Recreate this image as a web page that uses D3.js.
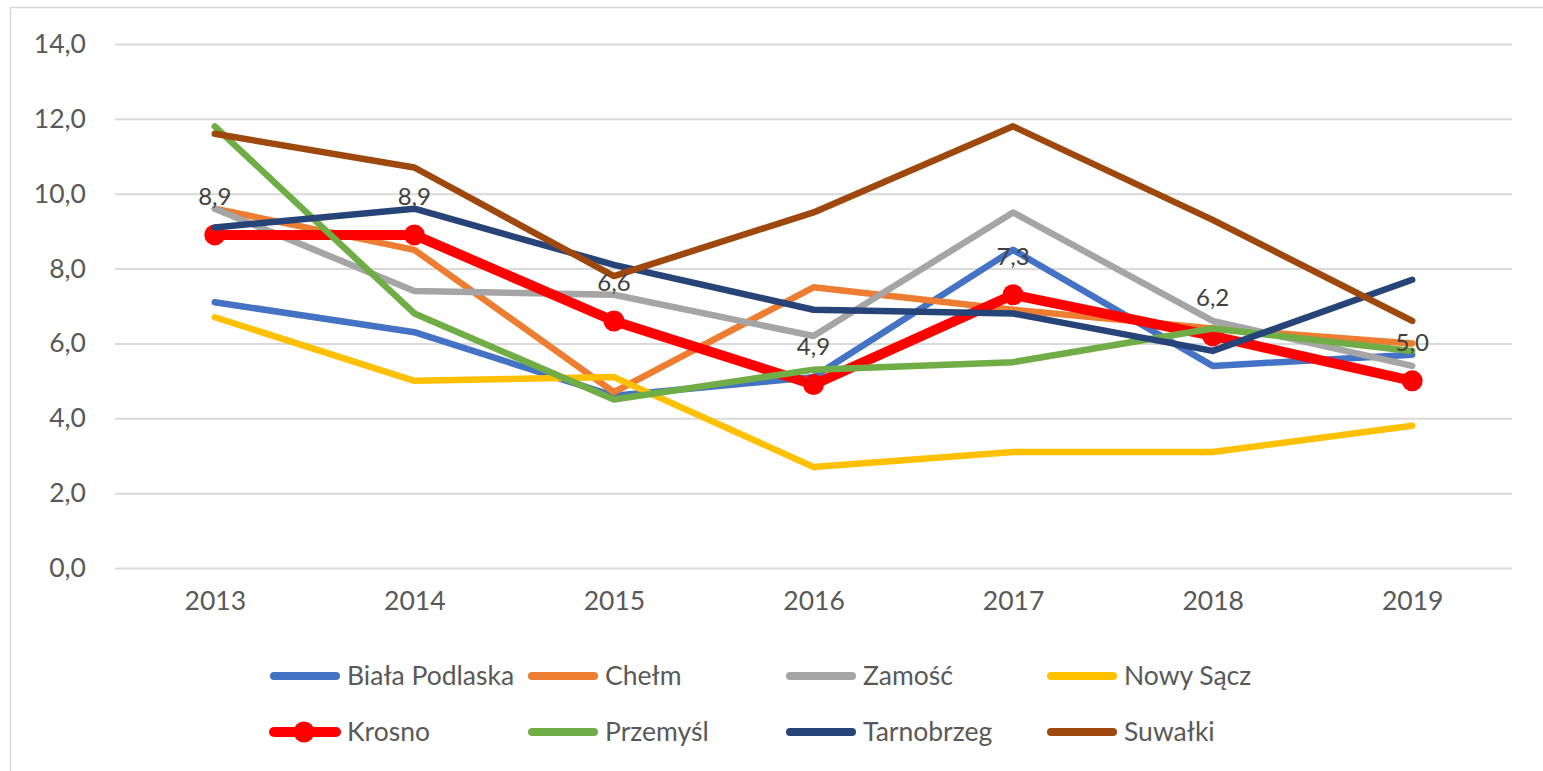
<!DOCTYPE html>
<html>
<head>
<meta charset="utf-8">
<script src="https://cdn.jsdelivr.net/npm/d3@7"></script>
<style>
  html, body { margin: 0; padding: 0; background: #fff; }
  svg { display: block; font-family: Lato, "Open Sans", sans-serif; }
</style>
</head>
<body>
<svg id="chart" width="1543" height="771"></svg>
<script>
var years = ["2013", "2014", "2015", "2016", "2017", "2018", "2019"];
var yTicks = [0, 2, 4, 6, 8, 10, 12, 14];

var bialaPodlaska = [7.1, 6.3, 4.6, 5.1, 8.5, 5.4, 5.7];
var chelm = [9.6, 8.5, 4.7, 7.5, 6.9, 6.4, 6.0];
var zamosc = [9.6, 7.4, 7.3, 6.2, 9.5, 6.6, 5.4];
var nowySacz = [6.7, 5.0, 5.1, 2.7, 3.1, 3.1, 3.8];
var krosno = [8.9, 8.9, 6.6, 4.9, 7.3, 6.2, 5.0];
var przemysl = [11.8, 6.8, 4.5, 5.3, 5.5, 6.4, 5.8];
var tarnobrzeg = [9.1, 9.6, 8.1, 6.9, 6.8, 5.8, 7.7];
var suwalki = [11.6, 10.7, 7.8, 9.5, 11.8, 9.3, 6.6];

var seriesNames = ["Biała Podlaska", "Chełm", "Zamość", "Nowy Sącz", "Krosno", "Przemyśl", "Tarnobrzeg", "Suwałki"];
var seriesValues = [bialaPodlaska, chelm, zamosc, nowySacz, krosno, przemysl, tarnobrzeg, suwalki];
var seriesColors = ["#4472C4", "#ED7D31", "#A5A5A5", "#FFC000", "#FF0000", "#70AD47", "#264478", "#9E480E"];

var svg = d3.select("#chart");
var plot = { left: 115, right: 1512, top: 44, bottom: 568 };

// chart frame (only top & left edges are visible in the picture)
svg.append("line").attr("x1", 10).attr("x2", 1543).attr("y1", 7.5).attr("y2", 7.5)
  .attr("stroke", "#d9d9d9").attr("stroke-width", 1.5);
svg.append("line").attr("x1", 10.5).attr("x2", 10.5).attr("y1", 7).attr("y2", 771)
  .attr("stroke", "#d9d9d9").attr("stroke-width", 1.5);

var x = d3.scalePoint()
  .domain(years)
  .range([plot.left, plot.right])
  .padding(0.5);

var y = d3.scaleLinear()
  .domain([0, 14])
  .range([plot.bottom, plot.top]);

var fmt = function(v) { return d3.format(".1f")(v).replace(".", ","); };

// gridlines
svg.append("g")
  .attr("transform", `translate(${plot.left},0)`)
  .call(d3.axisRight(y).tickValues(yTicks).tickSize(plot.right - plot.left).tickFormat(""))
  .call(g => g.select(".domain").remove())
  .call(g => g.selectAll(".tick line").attr("stroke", "#d9d9d9").attr("stroke-width", 2));

// y axis labels
svg.append("g")
  .attr("transform", `translate(${plot.left},0)`)
  .call(d3.axisLeft(y).tickValues(yTicks).tickSize(0).tickPadding(29).tickFormat(fmt))
  .call(g => g.select(".domain").remove())
  .call(g => g.selectAll("text")
    .attr("fill", "#595959")
    .style("font-size", "26.5px")
    .style("font-family", "Lato, sans-serif"));

// x axis labels
svg.append("g")
  .attr("transform", `translate(0,${plot.bottom})`)
  .call(d3.axisBottom(x).tickSize(0).tickPadding(23))
  .call(g => g.select(".domain").remove())
  .call(g => g.selectAll("text")
    .attr("fill", "#595959")
    .style("font-size", "26.5px")
    .style("font-family", "Lato, sans-serif"));

var line = d3.line()
  .x(function(d, i) { return x(years[i]); })
  .y(function(d) { return y(d); });

seriesValues.forEach(function(vals, k) {
  var isKrosno = seriesNames[k] === "Krosno";
  svg.append("path")
    .datum(vals)
    .attr("fill", "none")
    .attr("stroke", seriesColors[k])
    .attr("stroke-width", isKrosno ? 10 : 6.5)
    .attr("stroke-linejoin", "round")
    .attr("stroke-linecap", "round")
    .attr("d", line);

  if (isKrosno) {
    svg.append("g")
      .selectAll("circle")
      .data(vals)
      .enter()
      .append("circle")
      .attr("cx", function(d, i) { return x(years[i]); })
      .attr("cy", function(d) { return y(d); })
      .attr("r", 10.5)
      .attr("fill", seriesColors[k]);
  }
});

// data labels for Krosno
svg.append("g")
  .selectAll("text")
  .data(krosno)
  .enter()
  .append("text")
  .attr("x", function(d, i) { return x(years[i]); })
  .attr("y", function(d) { return y(d) - 30; })
  .attr("text-anchor", "middle")
  .attr("fill", "#404040")
  .style("font-size", "24px")
  .text(fmt);

// legend
var legendCols = [270, 528, 786, 1047];
var legendRows = [676, 732];
var legend = svg.append("g");
seriesNames.forEach(function(name, k) {
  var lx = legendCols[k % 4], ly = legendRows[Math.floor(k / 4)];
  var item = legend.append("g").attr("transform", `translate(${lx},${ly})`);
  item.append("line")
    .attr("x1", 4).attr("x2", 66).attr("y1", 0).attr("y2", 0)
    .attr("stroke", seriesColors[k])
    .attr("stroke-width", name === "Krosno" ? 10 : 8)
    .attr("stroke-linecap", "round");
  if (name === "Krosno") {
    item.append("circle").attr("cx", 34).attr("cy", 0).attr("r", 10.5).attr("fill", seriesColors[k]);
  }
  item.append("text")
    .attr("x", 77)
    .attr("y", 0)
    .attr("dy", "0.35em")
    .attr("fill", "#595959")
    .style("font-size", "26.5px")
    .text(name);
});
</script>
</body>
</html>
